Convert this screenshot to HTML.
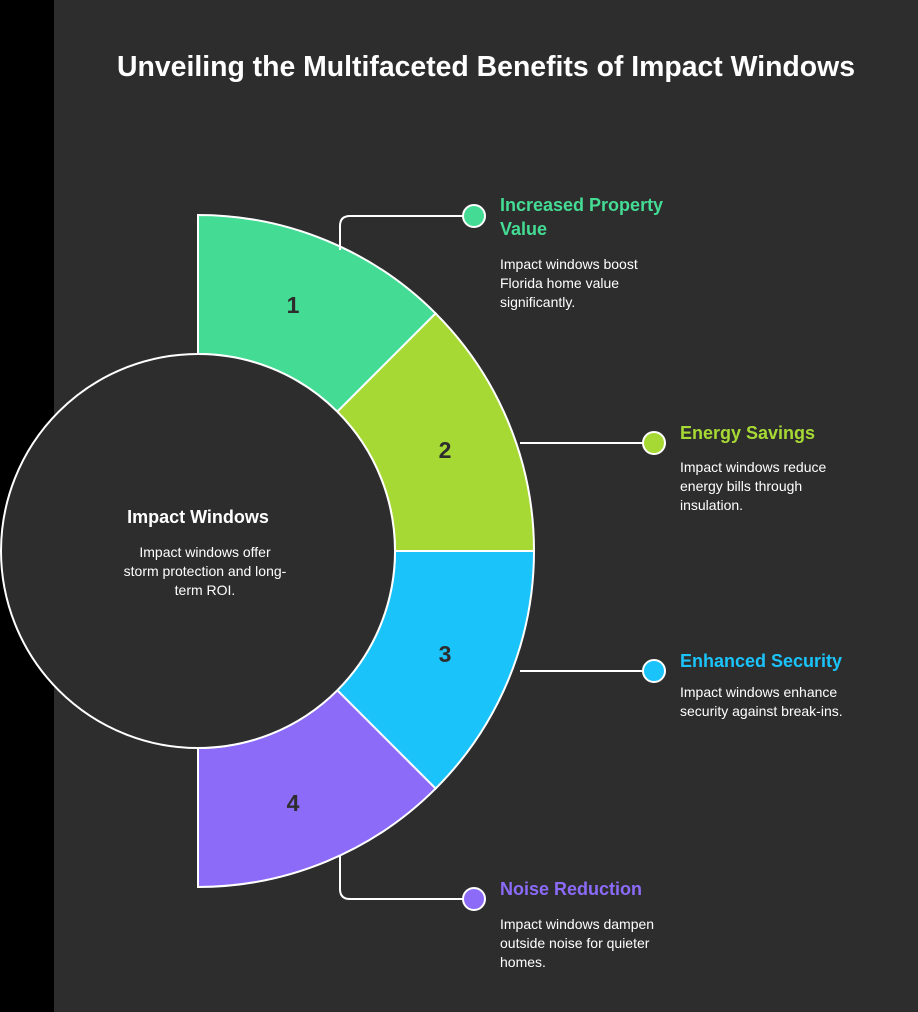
<!DOCTYPE html>
<html><head><meta charset="utf-8"><style>
body{margin:0;width:918px;height:1012px;overflow:hidden;background:#2d2d2d;font-family:"Liberation Sans",sans-serif}
</style></head><body>
<svg width="918" height="1012" xmlns="http://www.w3.org/2000/svg" style="position:absolute;left:0;top:0">
<rect x="0" y="0" width="918" height="1012" fill="#2d2d2d"/>
<rect x="0" y="0" width="54" height="1012" fill="#000"/>
<g stroke="#fff" stroke-width="2">
<path d="M198,215 A336,336 0 0 1 435.6,313.4 L337.3,411.7 A197,197 0 0 0 198,354 Z" fill="#44dc94"/>
<path d="M435.6,313.4 A336,336 0 0 1 534,551 L395,551 A197,197 0 0 0 337.3,411.7 Z" fill="#a7d935"/>
<path d="M534,551 A336,336 0 0 1 435.6,788.6 L337.3,690.3 A197,197 0 0 0 395,551 Z" fill="#1bc3fb"/>
<path d="M435.6,788.6 A336,336 0 0 1 198,887 L198,748 A197,197 0 0 0 337.3,690.3 Z" fill="#8c6bf9"/>
<circle cx="198" cy="551" r="197" fill="#2d2d2d"/>
</g>
<g stroke="#fff" stroke-width="2" fill="none">
<path d="M340,250 V226 Q340,216 350,216 H464"/>
<path d="M520,443 H644"/>
<path d="M520,671 H644"/>
<path d="M340,855 V889 Q340,899 350,899 H464"/>
</g>
<g stroke="#fff" stroke-width="2">
<circle cx="474" cy="216" r="11" fill="#44dc94"/>
<circle cx="654" cy="443" r="11" fill="#a7d935"/>
<circle cx="654" cy="671" r="11" fill="#1bc3fb"/>
<circle cx="474" cy="899" r="11" fill="#8c6bf9"/>
</g>
<g font-family="Liberation Sans, sans-serif" font-weight="bold" font-size="23" fill="#2d2d2d" text-anchor="middle">
<text x="293" y="313">1</text><text x="445" y="458">2</text><text x="445" y="662">3</text><text x="293" y="811">4</text>
</g>
<text x="486" y="76" fill="#fff" font-size="28.4" font-weight="bold" text-anchor="middle" font-family="Liberation Sans, sans-serif">Unveiling the Multifaceted Benefits of Impact Windows</text>
<g font-family="Liberation Sans, sans-serif">
<text x="198" y="523" fill="#fff" font-size="18" font-weight="bold" text-anchor="middle">Impact Windows</text>
<g fill="#fff" font-size="14" text-anchor="middle"><text x="205" y="557">Impact windows offer</text><text x="205" y="576">storm protection and long-</text><text x="205" y="595">term ROI.</text></g>
<g font-size="18" font-weight="bold">
<text x="500" y="211" fill="#44dc94">Increased Property</text><text x="500" y="235" fill="#44dc94">Value</text>
<text x="680" y="439" fill="#a7d935">Energy Savings</text>
<text x="680" y="667" fill="#1bc3fb">Enhanced Security</text>
<text x="500" y="895" fill="#8c6bf9">Noise Reduction</text>
</g>
<g font-size="14" fill="#fff">
<text x="500" y="269">Impact windows boost</text><text x="500" y="288">Florida home value</text><text x="500" y="307">significantly.</text>
<text x="680" y="472">Impact windows reduce</text><text x="680" y="491">energy bills through</text><text x="680" y="510">insulation.</text>
<text x="680" y="697">Impact windows enhance</text><text x="680" y="716">security against break-ins.</text>
<text x="500" y="929">Impact windows dampen</text><text x="500" y="948">outside noise for quieter</text><text x="500" y="967">homes.</text>
</g>
</g>
</svg>
</body></html>
